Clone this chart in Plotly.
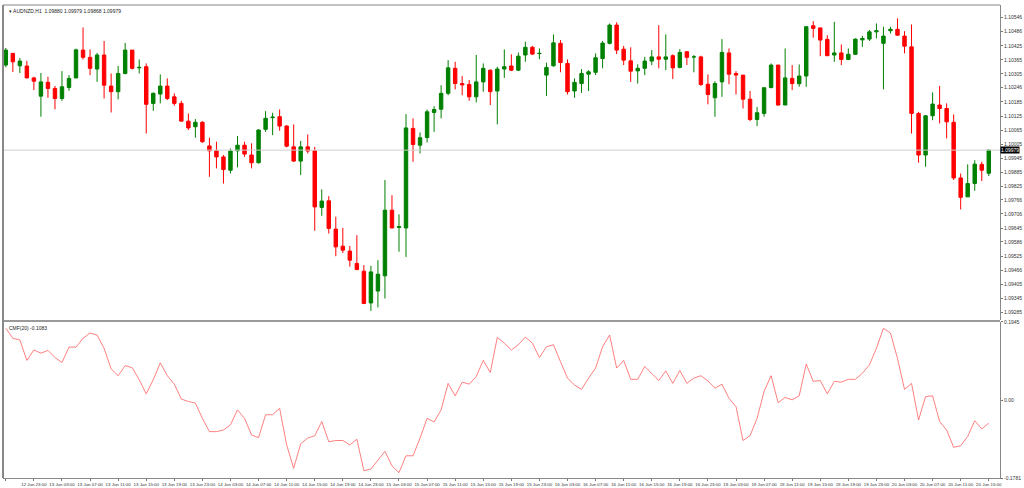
import plotly.graph_objects as go

opens = [1.10343,1.10393,1.10340,1.10339,1.10288,1.10210,1.10269,1.10243,1.10200,1.10247,
1.10288,1.10407,1.10376,1.10326,1.10386,1.10253,1.10229,1.10307,1.10407,1.10331,
1.10336,1.10179,1.10219,1.10253,1.10207,1.10179,1.10103,1.10079,1.10098,1.09997,
1.09976,1.09950,1.09893,1.09976,1.10000,1.09958,1.09925,1.10068,1.10118,1.10122,
1.10082,1.09993,1.09932,1.09993,1.09976,1.09734,1.09762,1.09641,1.09568,1.09547,
1.09494,1.09461,1.09325,1.09376,1.09441,1.09722,1.09648,1.09646,1.10072,1.10000,
1.10033,1.10140,1.10154,1.10222,1.10329,1.10264,1.10260,1.10207,1.10271,1.10321,
1.10232,1.10326,1.10339,1.10321,1.10386,1.10419,1.10392,1.10300,1.10340,1.10436,
1.10350,1.10232,1.10264,1.10304,1.10312,1.10371,1.10436,1.10514,1.10411,1.10361,
1.10318,1.10329,1.10360,1.10378,1.10368,1.10383,1.10333,1.10400,1.10378,1.10378,
1.10261,1.10203,1.10271,1.10395,1.10307,1.10300,1.10197,1.10110,1.10136,1.10247,
1.10343,1.10172,1.10286,1.10263,1.10296,1.10511,1.10502,1.10453,1.10386,1.10395,
1.10367,1.10389,1.10451,1.10454,1.10485,1.10436,1.10490,1.10496,1.10467,1.10421,
1.10136,1.09958,1.10126,1.10172,1.10157,1.10098,1.09860,1.09779,1.09836,1.09918,
1.09880]
highs = [1.10416,1.10394,1.10373,1.10361,1.10293,1.10309,1.10293,1.10254,1.10317,1.10300,
1.10413,1.10504,1.10410,1.10395,1.10446,1.10307,1.10339,1.10438,1.10407,1.10367,
1.10350,1.10226,1.10303,1.10286,1.10222,1.10190,1.10136,1.10112,1.10103,1.10032,
1.10015,1.09958,1.09986,1.10039,1.10015,1.10008,1.10068,1.10146,1.10139,1.10153,
1.10086,1.10089,1.10018,1.10046,1.09993,1.09811,1.09782,1.09694,1.09646,1.09569,
1.09615,1.09487,1.09484,1.09508,1.09851,1.09786,1.09704,1.10133,1.10115,1.10055,
1.10153,1.10167,1.10257,1.10364,1.10357,1.10296,1.10279,1.10386,1.10350,1.10324,
1.10336,1.10410,1.10389,1.10397,1.10443,1.10425,1.10414,1.10353,1.10474,1.10450,
1.10367,1.10286,1.10326,1.10321,1.10393,1.10446,1.10521,1.10526,1.10425,1.10419,
1.10346,1.10378,1.10407,1.10514,1.10474,1.10389,1.10411,1.10403,1.10386,1.10383,
1.10303,1.10274,1.10454,1.10414,1.10317,1.10300,1.10232,1.10164,1.10246,1.10350,
1.10343,1.10414,1.10343,1.10346,1.10510,1.10531,1.10502,1.10471,1.10528,1.10431,
1.10414,1.10457,1.10468,1.10493,1.10521,1.10507,1.10507,1.10543,1.10488,1.10517,
1.10143,1.10129,1.10226,1.10254,1.10179,1.10132,1.09879,1.09918,1.09936,1.09929,
1.09979]
lows = [1.10334,1.10313,1.10309,1.10287,1.10236,1.10122,1.10203,1.10154,1.10190,1.10233,
1.10286,1.10367,1.10300,1.10271,1.10200,1.10140,1.10196,1.10303,1.10324,1.10307,
1.10050,1.10147,1.10179,1.10193,1.10169,1.10103,1.10065,1.10032,1.10010,1.09865,
1.09901,1.09836,1.09879,1.09905,1.09950,1.09901,1.09922,1.10057,1.10043,1.10062,
1.09991,1.09929,1.09872,1.09965,1.09634,1.09698,1.09622,1.09525,1.09539,1.09480,
1.09465,1.09320,1.09291,1.09306,1.09344,1.09644,1.09544,1.09522,1.09929,1.09965,
1.10012,1.10057,1.10115,1.10214,1.10239,1.10214,1.10190,1.10183,1.10229,1.10172,
1.10089,1.10288,1.10317,1.10317,1.10357,1.10386,1.10368,1.10211,1.10336,1.10312,
1.10217,1.10203,1.10224,1.10232,1.10300,1.10329,1.10431,1.10390,1.10343,1.10271,
1.10264,1.10300,1.10343,1.10329,1.10321,1.10283,1.10329,1.10343,1.10312,1.10254,
1.10175,1.10122,1.10207,1.10261,1.10217,1.10157,1.10103,1.10082,1.10122,1.10243,
1.10169,1.10172,1.10236,1.10250,1.10250,1.10460,1.10381,1.10383,1.10357,1.10343,
1.10364,1.10386,1.10421,1.10446,1.10457,1.10239,1.10478,1.10468,1.10393,1.10050,
1.09925,1.09908,1.10107,1.10093,1.10029,1.09851,1.09725,1.09779,1.09805,1.09847,
1.09868]
closes = [1.10407,1.10357,1.10360,1.10288,1.10274,1.10271,1.10243,1.10200,1.10250,1.10286,
1.10408,1.10376,1.10329,1.10386,1.10257,1.10229,1.10307,1.10407,1.10329,1.10333,
1.10175,1.10222,1.10253,1.10200,1.10179,1.10103,1.10074,1.10098,1.10015,1.09976,
1.09950,1.09896,1.09975,1.10000,1.09962,1.09925,1.10065,1.10115,1.10120,1.10082,
1.09996,1.09932,1.09993,1.09975,1.09736,1.09761,1.09644,1.09565,1.09551,1.09508,
1.09468,1.09323,1.09458,1.09448,1.09722,1.09646,1.09652,1.10074,1.10003,1.10032,
1.10143,1.10153,1.10222,1.10331,1.10264,1.10258,1.10207,1.10271,1.10329,1.10229,
1.10326,1.10336,1.10321,1.10381,1.10419,1.10390,1.10393,1.10333,1.10438,1.10354,
1.10229,1.10269,1.10307,1.10314,1.10374,1.10437,1.10514,1.10407,1.10364,1.10317,
1.10329,1.10360,1.10378,1.10368,1.10378,1.10331,1.10397,1.10376,1.10378,1.10260,
1.10217,1.10264,1.10397,1.10304,1.10300,1.10197,1.10110,1.10139,1.10246,1.10343,
1.10172,1.10288,1.10264,1.10296,1.10507,1.10500,1.10450,1.10383,1.10395,1.10367,
1.10389,1.10454,1.10457,1.10485,1.10490,1.10467,1.10496,1.10471,1.10424,1.10136,
1.09958,1.10126,1.10176,1.10157,1.10100,1.09860,1.09777,1.09836,1.09919,1.09893,
1.09979]
cmf = [0.180,0.155,0.151,0.100,0.126,0.118,0.125,0.107,0.095,0.133,
0.133,0.155,0.168,0.163,0.130,0.079,0.062,0.087,0.082,0.052,
0.017,0.052,0.094,0.062,0.041,0.004,-0.002,-0.006,-0.044,-0.077,
-0.077,-0.073,-0.060,-0.023,-0.044,-0.085,-0.092,-0.035,-0.035,-0.019,
-0.110,-0.168,-0.107,-0.093,-0.087,-0.052,-0.102,-0.099,-0.099,-0.110,
-0.096,-0.174,-0.170,-0.149,-0.126,-0.162,-0.179,-0.137,-0.137,-0.093,
-0.044,-0.053,-0.023,0.043,0.012,0.046,0.041,0.060,0.100,0.070,
0.157,0.143,0.126,0.139,0.158,0.143,0.107,0.134,0.139,0.097,
0.056,0.039,0.028,0.056,0.081,0.134,0.163,0.081,0.100,0.053,
0.053,0.085,0.068,0.050,0.074,0.043,0.075,0.043,0.056,0.062,
0.049,0.031,0.041,0.006,-0.015,-0.099,-0.087,-0.044,0.023,0.062,
-0.005,0.008,0.002,0.012,0.091,0.048,0.050,0.017,0.048,0.046,
0.053,0.053,0.068,0.089,0.130,0.180,0.168,0.105,0.028,0.043,
-0.048,0.010,0.012,-0.052,-0.073,-0.116,-0.112,-0.089,-0.050,-0.070,
-0.056]
time_labels = ["12 Jun 2023","12 Jun 23:00","13 Jun 03:00","13 Jun 07:00","13 Jun 11:00","13 Jun 15:00",
"13 Jun 19:00","13 Jun 23:00","14 Jun 03:00","14 Jun 07:00","14 Jun 11:00","14 Jun 15:00",
"14 Jun 19:00","14 Jun 23:00","15 Jun 03:00","15 Jun 07:00","15 Jun 11:00","15 Jun 15:00",
"15 Jun 19:00","15 Jun 23:00","16 Jun 03:00","16 Jun 07:00","16 Jun 11:00","16 Jun 15:00",
"16 Jun 19:00","16 Jun 23:00","19 Jun 03:00","19 Jun 07:00","19 Jun 11:00","19 Jun 15:00",
"19 Jun 19:00","19 Jun 23:00","20 Jun 03:00","20 Jun 07:00","20 Jun 11:00","20 Jun 15:00"]
price_ticks = [1.10546,1.10486,1.10425,1.10365,1.10305,1.10246,1.10185,1.10125,1.10065,1.10005,
1.09945,1.09885,1.09825,1.09766,1.09706,1.09645,1.09586,1.09525,1.09466,1.09405,1.09345,1.09285]
cmf_top, cmf_bottom = 0.1957, -0.1922
cmf_ticks = [cmf_top, 0.0, cmf_bottom]
cmf_tick_text = ["0.1945", "0.00", "-0.1781"]
last_price = 1.09979

n = len(closes)
idx = list(range(n))
FONT = "Liberation Sans"
TF = dict(size=5, color="#333")

fig = go.Figure()
fig.add_trace(go.Candlestick(x=idx, open=opens, high=highs, low=lows, close=closes,
    increasing=dict(line=dict(color="#008000", width=1), fillcolor="#008000"),
    decreasing=dict(line=dict(color="#ff0000", width=1), fillcolor="#ff0000"),
    whiskerwidth=0, xaxis="x", yaxis="y", hoverinfo="skip"))
fig.add_trace(go.Scatter(x=idx, y=cmf, mode="lines", line=dict(color="#ff6060", width=0.8),
    xaxis="x", yaxis="y2", hoverinfo="skip"))

fig.update_layout(
    width=1024, height=488, margin=dict(l=3, r=24, t=5, b=10, autoexpand=False),
    paper_bgcolor="white", plot_bgcolor="white", showlegend=False,
    font=dict(family=FONT, size=5, color="#333"),
    xaxis=dict(range=[-0.4, 141.6], rangeslider=dict(visible=False), anchor="y2",
               tickvals=list(range(0, n, 4)), ticktext=time_labels, ticks="outside", ticklen=2,
               tickangle=0, automargin=False,
               tickcolor="#777", showgrid=False, showline=True, linecolor="#888", mirror=False,
               zeroline=False, tickfont=dict(size=4.4, color="#333")),
    yaxis=dict(domain=[0.334, 1], range=[1.09252, 1.10600], side="right", tickvals=price_ticks,
               tickformat=".5f", ticks="outside", ticklen=2, tickcolor="#777", showgrid=False,
               automargin=False,
               showline=True, linecolor="#888", zeroline=False, tickfont=TF),
    yaxis2=dict(domain=[0, 0.330], range=[cmf_bottom, cmf_top], side="right", tickvals=cmf_ticks,
               ticktext=cmf_tick_text, ticks="outside", ticklen=2, tickcolor="#777", showgrid=False,
               automargin=False,
               showline=True, linecolor="#888", zeroline=False, tickfont=TF),
)
shapes = [
    dict(type="line", xref="paper", yref="y", x0=0, x1=1, y0=last_price, y1=last_price,
         line=dict(color="#cfcfcf", width=1)),
    dict(type="rect", xref="paper", yref="paper", x0=0, x1=1, y0=0.330, y1=0.334,
         line=dict(width=0), fillcolor="#9a9a9a"),
    dict(type="line", xref="paper", yref="paper", x0=0, x1=0, y0=0, y1=1,
         line=dict(color="#888", width=2)),
    dict(type="line", xref="paper", yref="paper", x0=0, x1=1, y0=1, y1=1,
         line=dict(color="#888", width=1)),
]
fig.update_layout(shapes=shapes)
fig.add_annotation(xref="paper", yref="paper", x=0.004, y=0.997, xanchor="left", yanchor="top",
    text="▾ AUDNZD,H1  1.09880 1.09979 1.09868 1.09979", showarrow=False, font=dict(size=5, color="#222"))
fig.add_annotation(xref="paper", yref="paper", x=0.004, y=0.327, xanchor="left", yanchor="top",
    text="CMF(20) -0.1083", showarrow=False, font=dict(size=5, color="#222"))
fig.add_annotation(xref="paper", yref="y", x=1.0, y=last_price, xanchor="left", yanchor="middle",
    text="1.09979", showarrow=False, bgcolor="black", font=dict(size=5, color="white"), borderpad=0)
fig.write_html("out.html", config={"displayModeBar": False})

with open("out.html", encoding="utf-8") as f:
    html = f.read()
html = html.replace("<head>", "<head><style>html,body{margin:0;padding:0;overflow:hidden;}</style>", 1)
with open("out.html", "w", encoding="utf-8") as f:
    f.write(html)
